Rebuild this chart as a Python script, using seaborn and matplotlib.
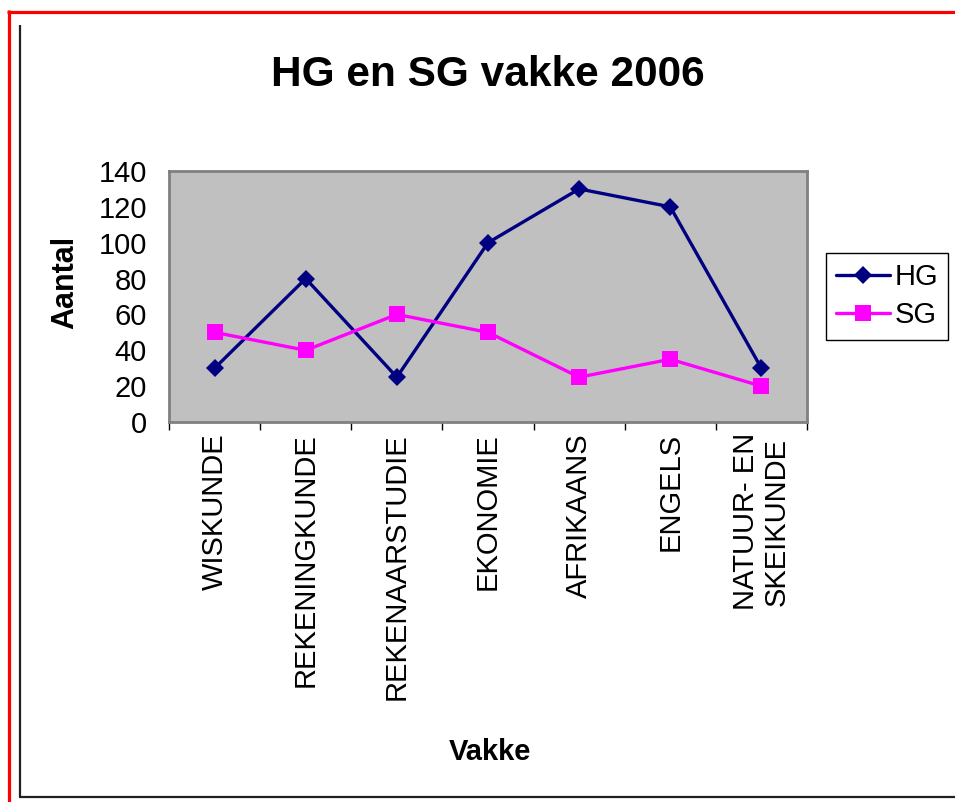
import numpy as np
import pandas as pd
import matplotlib.pyplot as plt
import seaborn as sns
from matplotlib.lines import Line2D

# Data
vakke = ["WISKUNDE", "REKENINGKUNDE", "REKENAARSTUDIE", "EKONOMIE",
         "AFRIKAANS", "ENGELS", "NATUUR- EN\nSKEIKUNDE"]
hg = [30, 80, 25, 100, 130, 120, 30]
sg = [50, 40, 60, 50, 25, 35, 20]
y_ticks = [0, 20, 40, 60, 80, 100, 120, 140]

df = pd.DataFrame({
    "pos": list(range(len(vakke))) * 2,
    "Aantal": hg + sg,
    "Reeks": ["HG"] * len(vakke) + ["SG"] * len(vakke),
})

sns.set_style("white")
plt.rcParams["font.family"] = ["Liberation Sans", "DejaVu Sans"]
plt.rcParams["text.color"] = "black"
plt.rcParams["axes.labelcolor"] = "black"
plt.rcParams["xtick.color"] = "black"
plt.rcParams["ytick.color"] = "black"

fig = plt.figure(figsize=(9.55, 8.02), dpi=100)
ax = fig.add_axes([169 / 955, 1 - 422 / 802, 638 / 955, 251 / 802])
ax.set_facecolor("#C0C0C0")

kleure = {"HG": "#000080", "SG": "#FF00FF"}
sns.lineplot(data=df, x="pos", y="Aantal", hue="Reeks", style="Reeks",
             palette=kleure, markers={"HG": "D", "SG": "s"}, dashes=False,
             sort=False, linewidth=2.4, markersize=10, markeredgewidth=0,
             ax=ax, legend=False)
# SG squares a bit bigger
for ln in ax.lines:
    if ln.get_color().lower() in ("#ff00ff", "magenta"):
        ln.set_markersize(11)
    else:
        ln.set_markersize(9)

ax.set_xlim(-0.5, len(vakke) - 0.5)
ax.set_ylim(0, 140)
ax.set_yticks(y_ticks)
ax.set_yticklabels([str(v) for v in y_ticks], fontsize=21)
ax.tick_params(axis="y", length=0, pad=16)

ax.set_xticks(range(len(vakke)))
ax.set_xticklabels(vakke, rotation=90, fontsize=21, va="top", ha="center",
                   linespacing=1.1)
ax.tick_params(axis="x", which="major", length=0, pad=8)
ax.set_xticks(np.arange(-0.5, len(vakke), 1.0), minor=True)
ax.tick_params(axis="x", which="minor", length=6, width=1, color="black",
               direction="out", bottom=True)
ax.set_xlabel("")
ax.set_ylabel("Aantal", fontsize=22, fontweight="bold", va="center")
ax.yaxis.set_label_coords((65 - 169) / 638, (422 - 282) / 251)

for s in ax.spines.values():
    s.set_visible(True)
    s.set_color("#808080")
    s.set_linewidth(2)

# Legend
handles = [
    Line2D([], [], color=kleure["HG"], marker="D", markersize=9, linewidth=2.4,
           markeredgewidth=0),
    Line2D([], [], color=kleure["SG"], marker="s", markersize=11, linewidth=2.4,
           markeredgewidth=0),
]
leg = fig.legend(handles, ["HG", "SG"], loc="upper left",
                 bbox_to_anchor=(826 / 955, 1 - 253 / 802), fontsize=21,
                 frameon=True, fancybox=False, framealpha=1, edgecolor="black",
                 handlelength=1.85, handletextpad=0.15, borderpad=0.35,
                 labelspacing=0.35, borderaxespad=0)
leg.get_frame().set_linewidth(1)

# Titles
fig.text(488 / 955, 1 - 75 / 802, "HG en SG vakke 2006", fontsize=30.5,
         fontweight="bold", ha="center", va="center")
fig.text(490 / 955, 1 - 752 / 802, "Vakke", fontsize=21, fontweight="bold",
         ha="center", va="center")

# Frames (red outer, black inner)
rood = dict(color="#FF0000", linewidth=2.3, solid_capstyle="butt")
fig.add_artist(Line2D([8.5 / 955, 8.5 / 955], [0, 1 - 10 / 802], **rood))
fig.add_artist(Line2D([7 / 955, 1], [1 - 11.5 / 802, 1 - 11.5 / 802], **rood))
swart = dict(color="#202020", linewidth=1.6, solid_capstyle="butt")
fig.add_artist(Line2D([20 / 955, 20 / 955], [1 - 797 / 802, 1 - 25 / 802], **swart))
fig.add_artist(Line2D([19 / 955, 1], [1 - 797 / 802, 1 - 797 / 802], **swart))

fig.savefig("out.png", dpi=100)
